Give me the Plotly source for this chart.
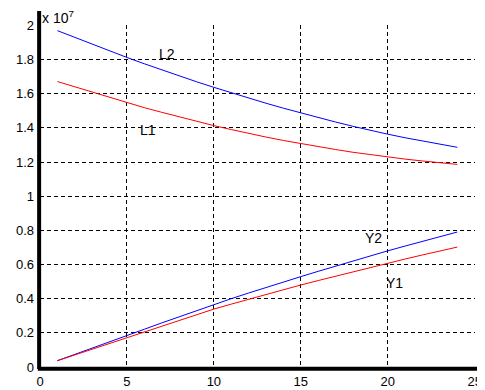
import plotly.graph_objects as go

x_vals = list(range(1, 25))
L2 = [1.969, 1.929, 1.889, 1.850, 1.812, 1.775, 1.739, 1.704, 1.670, 1.637,
      1.605, 1.574, 1.544, 1.515, 1.487, 1.460, 1.434, 1.409, 1.385, 1.363,
      1.342, 1.322, 1.303, 1.286]
L1 = [1.671, 1.640, 1.608, 1.577, 1.546, 1.518, 1.491, 1.464, 1.438, 1.413,
      1.390, 1.367, 1.346, 1.326, 1.307, 1.290, 1.273, 1.257, 1.243, 1.229,
      1.217, 1.206, 1.196, 1.186]
Y2 = [0.037, 0.073, 0.110, 0.147, 0.184, 0.221, 0.258, 0.294, 0.331, 0.367,
      0.400, 0.433, 0.466, 0.498, 0.529, 0.560, 0.591, 0.621, 0.651, 0.680,
      0.708, 0.736, 0.763, 0.790]
Y1 = [0.037, 0.071, 0.105, 0.139, 0.173, 0.207, 0.240, 0.273, 0.306, 0.339,
      0.368, 0.397, 0.425, 0.453, 0.480, 0.506, 0.532, 0.558, 0.583, 0.608,
      0.632, 0.656, 0.679, 0.702]

x_ticks = [0, 5, 10, 15, 20, 25]
y_ticks = [0, 0.2, 0.4, 0.6, 0.8, 1.0, 1.2, 1.4, 1.6, 1.8, 2.0]
y_tick_text = ["0", "0.2", "0.4", "0.6", "0.8", "1", "1.2", "1.4", "1.6", "1.8", "2"]

labels = [("L2", 7.28, 1.833), ("L1", 6.23, 1.39), ("Y2", 19.19, 0.754), ("Y1", 20.37, 0.494)]

FONT = "Liberation Sans, Arial, sans-serif"

fig = go.Figure()
fig.add_trace(go.Scatter(x=x_vals, y=L2, mode="lines", line=dict(color="#0000ff", width=1)))
fig.add_trace(go.Scatter(x=x_vals, y=L1, mode="lines", line=dict(color="#ff0000", width=1)))
fig.add_trace(go.Scatter(x=x_vals, y=Y2, mode="lines", line=dict(color="#0000ff", width=1)))
fig.add_trace(go.Scatter(x=x_vals, y=Y1, mode="lines", line=dict(color="#ff0000", width=1)))

for t, lx, ly in labels:
    fig.add_annotation(x=lx, y=ly, text=t, showarrow=False, xanchor="center", yanchor="middle",
                       font=dict(family=FONT, size=14, color="#000000"))

fig.add_annotation(x=0, y=1, xref="paper", yref="paper", text="x 10<sup>7</sup>", showarrow=False,
                   xanchor="left", yanchor="bottom", yshift=-3,
                   font=dict(family=FONT, size=14, color="#000000"))

# thick axis lines (MATLAB style, overshooting the grid)
fig.add_shape(type="line", xref="paper", yref="paper", x0=-0.002, x1=-0.002, y0=-0.006, y1=1.041,
              line=dict(color="black", width=4))
fig.add_shape(type="line", xref="paper", yref="paper", x0=-0.005, x1=1.03, y0=-0.005, y1=-0.005,
              line=dict(color="black", width=4))

# page body has an 8px margin: shrink the figure so the plot lands at the reference position
fig.update_layout(
    width=477, height=382,
    margin=dict(l=32, r=10, t=17, b=23, autoexpand=False),
    paper_bgcolor="white", plot_bgcolor="white",
    showlegend=False,
    font=dict(family=FONT, size=13, color="#000000"),
    xaxis=dict(range=[0, 25.02], tickvals=x_ticks, showgrid=True, gridcolor="black", gridwidth=1,
               griddash="4px,3px", zeroline=False, showline=False, ticks="", fixedrange=True,
               automargin=False, ticklabelstandoff=5,
               tickfont=dict(family=FONT, size=13, color="#000000")),
    yaxis=dict(range=[0, 2.002], tickvals=y_ticks, ticktext=y_tick_text, showgrid=True, gridcolor="black",
               gridwidth=1, griddash="4px,3px", zeroline=False, showline=False, ticks="",
               fixedrange=True, automargin=False, ticklabelstandoff=5,
               tickfont=dict(family=FONT, size=13, color="#000000")),
)

fig.write_html("out.html")
